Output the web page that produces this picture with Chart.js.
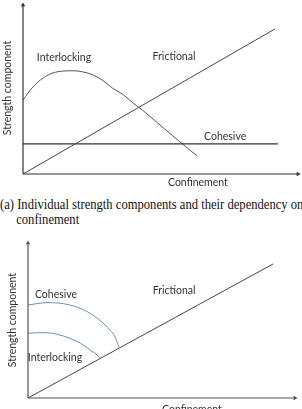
<!DOCTYPE html>
<html><head><meta charset="utf-8">
<script src="https://cdn.jsdelivr.net/npm/chart.js@4"></script>
<style>
html,body{margin:0;padding:0;background:#fff;width:302px;height:409px;overflow:hidden;}
.box{position:absolute;left:0;width:302px;}
#cap{position:absolute;left:0;top:197px;width:340px;font-family:"Liberation Serif","Times New Roman",serif;font-size:14px;line-height:15px;color:#111;white-space:nowrap;transform:scaleX(0.9);transform-origin:0 0;}
</style></head><body>
<div class="box" style="top:0;height:195px"><canvas id="c1" width="302" height="195"></canvas></div>
<div id="cap">(a) Individual strength components and their dependency on<br><span style="padding-left:18px">confinement</span></div>
<div class="box" style="top:235px;height:174px"><canvas id="c2" width="302" height="174"></canvas></div>
<script>
// ---- Panel (a) data (schematic units 0-100) ----
const aFrictionalX = [0, 91.6];
const aFrictionalY = [0, 85.8];
const aCohesiveX = [0, 92.7];
const aCohesiveY = [17.8, 17.8];
const aInterlockX = [0, 3.6, 7.3, 10.9, 14.5, 18.2, 21.8, 25.5, 29.1, 32.7, 36.4, 40.0, 43.6, 47.3, 50.9, 54.5, 58.2, 61.8, 63.3];
const aInterlockY = [43.8, 51.5, 56.8, 59.8, 60.9, 61.1, 60.4, 58.6, 55.3, 50.6, 47.0, 42.0, 37.6, 32.5, 27.5, 22.5, 17.5, 12.7, 10.9];
// ---- Panel (b) data ----
const bFrictionalX = [0, 91.8];
const bFrictionalY = [0, 86.5];
const bCohesiveX = [0, 3.7, 7.1, 11.2, 15.7, 20.2, 24.3, 27.7, 30.7, 32.6, 34.1];
const bCohesiveY = [60.0, 61.0, 61.5, 61.3, 60.0, 57.4, 53.5, 49.0, 43.9, 39.4, 32.6];
const bInterlockX = [0, 3.7, 7.1, 11.2, 15.7, 19.5, 23.2, 25.5, 27.0];
const bInterlockY = [41.7, 42.1, 42.1, 41.0, 38.5, 35.5, 31.0, 28.4, 25.6];
const yTitle = 'Strength component';
const xTitle = 'Confinement';

const pts = (xs, ys) => xs.map((x, i) => ({x, y: ys[i]}));

const labelPlugin = {
  id: 'labels',
  afterDatasetsDraw(chart, args, opts) {
    const ctx = chart.ctx, sx = chart.scales.x, sy = chart.scales.y;
    ctx.save();
    ctx.fillStyle = '#333';
    ctx.font = opts.font;
    ctx.textAlign = 'center';
    ctx.textBaseline = 'middle';
    for (const l of opts.items) {
      const px = sx.getPixelForValue(l.x), py = sy.getPixelForValue(l.y);
      ctx.save();
      ctx.translate(px, py);
      if (l.rot) ctx.rotate(l.rot);
      ctx.fillText(l.text, 0, 0);
      ctx.restore();
    }
    ctx.restore();
  }
};

function axisSets(color) {
  return [
    {data: pts([0, 100], [0, 0]), borderColor: color, backgroundColor: color, borderWidth: 1.2,
     pointRadius: [0, 2.6], pointStyle: 'triangle', rotation: 90, pointBorderWidth: 0},
    {data: pts([0, 0], [0, 100]), borderColor: color, backgroundColor: color, borderWidth: 1.2,
     pointRadius: [0, 2.6], pointStyle: 'triangle', rotation: 0, pointBorderWidth: 0}
  ];
}

function makeChart(id, datasets, pad, items) {
  return new Chart(document.getElementById(id), {
    type: 'scatter',
    data: {datasets: datasets.map(d => Object.assign({showLine: true, clip: false, pointRadius: 0, fill: false}, d))},
    options: {
      responsive: false, animation: false, devicePixelRatio: 1,
      layout: {padding: pad},
      scales: {
        x: {type: 'linear', min: 0, max: 100, display: false},
        y: {type: 'linear', min: 0, max: 100, display: false}
      },
      plugins: {legend: {display: false}, tooltip: {enabled: false},
        labels: {font: '10.5px Lato, "Open Sans", sans-serif', items}}
    },
    plugins: [labelPlugin]
  });
}

makeChart('c1', [
  ...axisSets('#333'),
  {data: pts(aFrictionalX, aFrictionalY), borderColor: '#444', borderWidth: 1},
  {data: pts(aCohesiveX, aCohesiveY), borderColor: '#333', borderWidth: 1.1},
  {data: pts(aInterlockX, aInterlockY), borderColor: '#555', borderWidth: 1, cubicInterpolationMode: 'monotone'}
], {left: 23, right: 4, top: 5, bottom: 21}, [
  {text: 'Interlocking', x: 14.9, y: 68.6},
  {text: 'Frictional', x: 54.9, y: 69.2},
  {text: 'Cohesive', x: 73.5, y: 21.9},
  {text: xTitle, x: 63.6, y: -5.3},
  {text: yTitle, x: -5.5, y: 50.9, rot: -Math.PI / 2}
]);

makeChart('c2', [
  ...axisSets('#555'),
  {data: pts(bFrictionalX, bFrictionalY), borderColor: '#444', borderWidth: 1},
  {data: pts(bCohesiveX, bCohesiveY), borderColor: '#6f8fb0', borderWidth: 1, cubicInterpolationMode: 'monotone'},
  {data: pts(bInterlockX, bInterlockY), borderColor: '#6f8fb0', borderWidth: 1, cubicInterpolationMode: 'monotone'}
], {left: 28, right: 7, top: 8, bottom: 11}, [
  {text: 'Cohesive', x: 10.5, y: 66.5},
  {text: 'Frictional', x: 54.7, y: 69.0},
  {text: 'Interlocking', x: 10.1, y: 25.8},
  {text: xTitle, x: 61.4, y: -7.7},
  {text: yTitle, x: -5.6, y: 50.3, rot: -Math.PI / 2}
]);
</script>
</body></html>
